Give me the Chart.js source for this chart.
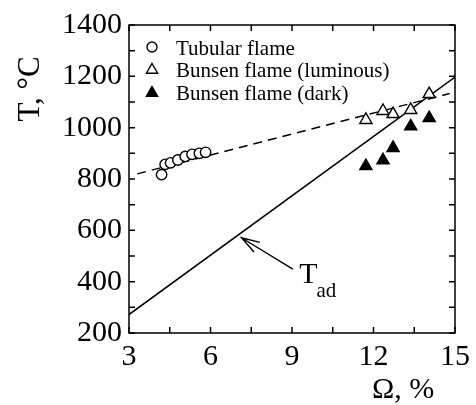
<!DOCTYPE html>
<html>
<head>
<meta charset="utf-8">
<script src="https://cdn.jsdelivr.net/npm/chart.js@4/dist/chart.umd.min.js"></script>
<style>
html,body{margin:0;padding:0;background:#fff;}
#wrap{width:476px;height:405px;}
</style>
</head>
<body>
<div id="wrap"><canvas id="c" width="476" height="405"></canvas></div>
<script>
// ---- data ----
const tubularX = [4.20, 4.33, 4.53, 4.80, 5.07, 5.32, 5.59, 5.82];
const tubularY = [817, 857, 863, 874, 888, 896, 900, 904];
const lumX = [11.72, 12.35, 12.72, 13.37, 14.05];
const lumY = [1030, 1065, 1053, 1069, 1131];
const darkX = [11.72, 12.35, 12.72, 13.37, 14.05];
const darkY = [850, 873, 921, 1005, 1037];
const fitX = [3.3, 14.8];
const fitY = [820, 1133];
const tadX = [3, 15];
const tadY = [272, 1197];
const xTicks = [3, 6, 9, 12, 15];
const yTicks = [200, 400, 600, 800, 1000, 1200, 1400];
const legendLabels = ['Tubular flame', 'Bunsen flame (luminous)', 'Bunsen flame (dark)'];
const arrowTip = [7.14, 571];
const arrowTail = [9.03, 449];
const tadLabelPos = [9.30, 394];

const pts = (xs, ys) => xs.map((v, i) => ({x: v, y: ys[i]}));
const FONT = "'Liberation Serif', 'DejaVu Serif', serif";

const overlay = {
  id: 'overlay',
  afterDraw(chart) {
    const {ctx, chartArea: a, scales: {x, y}} = chart;
    ctx.save();
    ctx.strokeStyle = '#000';
    ctx.fillStyle = '#000';
    ctx.lineWidth = 1.5;
    ctx.strokeRect(a.left, a.top, a.right - a.left, a.bottom - a.top);
    const tl = 6;
    ctx.beginPath();
    x.ticks.forEach(t => {
      const px = x.getPixelForValue(t.value);
      ctx.moveTo(px, a.bottom); ctx.lineTo(px, a.bottom - tl);
      ctx.moveTo(px, a.top); ctx.lineTo(px, a.top + tl);
    });
    y.ticks.forEach(t => {
      const py = y.getPixelForValue(t.value);
      ctx.moveTo(a.left, py); ctx.lineTo(a.left + tl, py);
      ctx.moveTo(a.right, py); ctx.lineTo(a.right - tl, py);
    });
    ctx.stroke();

    // arrow
    const tx = x.getPixelForValue(arrowTip[0]), ty = y.getPixelForValue(arrowTip[1]);
    const sx = x.getPixelForValue(arrowTail[0]), sy = y.getPixelForValue(arrowTail[1]);
    ctx.lineWidth = 1.4;
    ctx.beginPath();
    ctx.moveTo(sx, sy); ctx.lineTo(tx, ty);
    const ang = Math.atan2(sy - ty, sx - tx);
    const bl = 19, da = 0.30;
    ctx.moveTo(tx + bl * Math.cos(ang - da), ty + bl * Math.sin(ang - da));
    ctx.lineTo(tx, ty);
    ctx.lineTo(tx + bl * Math.cos(ang + da), ty + bl * Math.sin(ang + da));
    ctx.stroke();

    // T_ad label
    const lx = x.getPixelForValue(tadLabelPos[0]), ly = y.getPixelForValue(tadLabelPos[1]);
    ctx.textAlign = 'left';
    ctx.textBaseline = 'alphabetic';
    ctx.font = '30px ' + FONT;
    ctx.fillText('T', lx - 1, ly);
    const tw = ctx.measureText('T').width;
    ctx.font = '21px ' + FONT;
    ctx.fillText('ad', lx - 1 + tw - 1, ly + 14);

    // legend
    const lxm = 152, ltx = 176;
    const rows = [47, 70, 93];
    ctx.lineWidth = 1.4;
    ctx.beginPath(); ctx.arc(lxm, rows[0], 5, 0, Math.PI * 2); ctx.fillStyle = '#fff'; ctx.fill(); ctx.stroke();
    const tri = (cx, cy, r, fill) => {
      ctx.beginPath();
      for (let k = 0; k < 3; k++) {
        const t = k * 2 * Math.PI / 3;
        const px = cx + Math.sin(t) * r, py = cy - Math.cos(t) * r;
        if (k === 0) ctx.moveTo(px, py); else ctx.lineTo(px, py);
      }
      ctx.closePath();
      ctx.fillStyle = fill ? '#000' : '#fff';
      ctx.fill(); ctx.stroke();
    };
    tri(lxm, rows[1], 6.5, false);
    tri(lxm, rows[2], 6.5, true);
    ctx.fillStyle = '#000';
    ctx.font = '21px ' + FONT;
    const bases = [55, 77, 100];
    legendLabels.forEach((s, i) => ctx.fillText(s, ltx, bases[i]));

    // axis titles
    ctx.font = '30px ' + FONT;
    ctx.textAlign = 'left';
    ctx.fillText('\u03A9, %', 372, 398);
    ctx.save();
    ctx.translate(39, 89);
    ctx.rotate(-Math.PI / 2);
    ctx.textAlign = 'center';
    ctx.font = '31px ' + FONT;
    ctx.fillText('T, \u00B0C', 0, 0);
    ctx.restore();
    ctx.restore();
  }
};

new Chart(document.getElementById('c'), {
  type: 'scatter',
  data: {
    datasets: [
      {label: legendLabels[0], data: pts(tubularX, tubularY), pointStyle: 'circle', pointRadius: 5.2,
       borderColor: '#000', backgroundColor: '#fff', borderWidth: 1.4},
      {label: legendLabels[1], data: pts(lumX, lumY), pointStyle: 'triangle', pointRadius: 7,
       borderColor: '#000', backgroundColor: '#fff', borderWidth: 1.4},
      {label: legendLabels[2], data: pts(darkX, darkY), pointStyle: 'triangle', pointRadius: 7,
       borderColor: '#000', backgroundColor: '#000', borderWidth: 1.4},
      {label: 'fit', data: pts(fitX, fitY), showLine: true, pointRadius: 0, borderColor: '#000',
       borderWidth: 1.5, borderDash: [9, 6]},
      {label: 'Tad', data: pts(tadX, tadY), showLine: true, pointRadius: 0, borderColor: '#000',
       borderWidth: 1.5}
    ]
  },
  options: {
    responsive: false,
    animation: false,
    events: [],
    layout: {padding: {top: 22, right: 20, left: 0, bottom: 0}},
    plugins: {legend: {display: false}, tooltip: {enabled: false}},
    scales: {
      x: {
        type: 'linear', min: 3, max: 15,
        grid: {display: false, drawTicks: false},
        border: {display: false},
        ticks: {stepSize: 1.5, autoSkip: false, maxRotation: 0, padding: 6, color: '#000',
          font: {family: FONT, size: 30},
          callback: v => (xTicks.includes(v) ? String(v) : '')},
        afterFit: s => { s.height = 72; }
      },
      y: {
        type: 'linear', min: 200, max: 1400,
        grid: {display: false, drawTicks: false},
        border: {display: false},
        ticks: {stepSize: 100, autoSkip: false, padding: 7, color: '#000',
          font: {family: FONT, size: 30},
          callback: v => (yTicks.includes(v) ? String(v) : '')},
        afterFit: s => { s.width = 129; }
      }
    }
  },
  plugins: [overlay]
});
</script>
</body>
</html>
